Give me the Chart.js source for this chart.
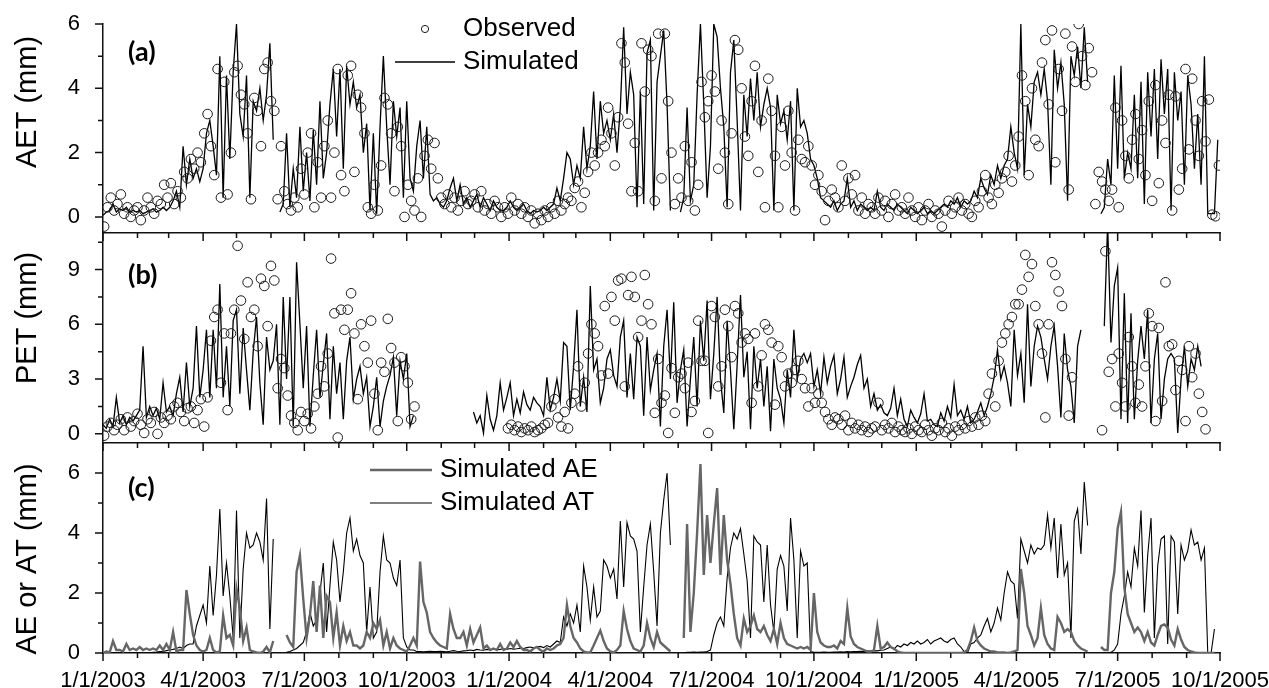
<!DOCTYPE html>
<html>
<head>
<meta charset="utf-8">
<title>AET / PET / AE-AT</title>
<script src="https://cdn.jsdelivr.net/npm/chart.js@4.4.1/dist/chart.umd.min.js"></script>
<style>
  html, body { margin: 0; padding: 0; background: #fff; }
  #wrap { position: relative; width: 1269px; height: 688px; overflow: hidden; }
  #wrap canvas { position: absolute; left: 0; }
</style>
</head>
<body>
<div id="wrap">
  <canvas id="panelA" width="1269" height="245" style="top:0"></canvas>
  <canvas id="panelB" width="1269" height="230" style="top:225px"></canvas>
  <canvas id="panelC" width="1269" height="253" style="top:435px"></canvas>
</div>
<script>
`use strict`;

// one value every 3 days starting 1/1/2003 (observed values sit one day later)
const STEP_DAYS = 3;

// (a) actual evapotranspiration, mm
const aetSimulated = [
  0.05, 0.15, 0.2, 0.4, 0.15, 0.25, 0.2, 0.3, 0.15, 0.2,
  0.15, 0.2, 0.1, 0.15, 0.2, 0.25, 0.15, 0.2, 0.3, 0.2,
  0.3, 0.5, 0.8, 0.3, 2.2, 1.0, 1.8, 1.2, 1.5, 1.1,
  1.5, 2.6, 3.0, 2.2, 1.3, 5.0, 0.6, 4.4, 1.8, 4.5,
  6.0, 3.2, 2.5, 4.4, 0.6, 3.6, 3.3, 4.0, 3.0, 3.8,
  5.4, 2.4, null, 0.15, 0.4, 2.6, 0.3, 1.5, 0.6, 2.8,
  0.8, 2.0, 0.5, 2.7, 1.0, 3.6, 1.2, 2.0, 3.5, 4.6,
  2.5, 4.6, 1.5, 4.7, 3.5, 4.2, 3.4, 3.8, 2.0, 2.9,
  0.2, 2.6, 0.1, 2.8, 5.0, 2.8, 1.0, 3.6, 2.5, 3.4,
  0.6, 3.6, 1.2, 0.8, 2.2, 3.0, 1.2, 2.8, 0.7, 0.5,
  0.6, 0.4, 0.3, 0.5, 0.9, 1.2, 0.5, 1.0, 0.4, 0.6,
  0.3, 0.5, 0.7, 0.3, 0.6, 0.4, 0.2, 0.5, 0.3, 0.2,
  0.2, 0.3, 0.5, 0.3, 0.2, 0.3, 0.4, 0.2, 0.1, 0.2,
  0.15, 0.2, 0.3, 0.2, 0.3, 0.4, 0.9, 0.5, 1.2, 2.0,
  1.8, 1.0, 1.6, 1.2, 2.8, 1.5, 2.2, 3.9, 1.8, 3.6,
  2.6, 3.0, 2.4, 3.2, 2.0, 3.4, 5.9, 3.2, 4.5, 3.8,
  0.3, 3.9, 0.4, 5.1, 5.5, 0.2, 4.2, 5.0, 5.8, 3.5,
  0.2, null, null, 0.15, 0.6, 3.4, 0.5, 1.0, 3.8, 6.0,
  3.5, 0.6, 2.2, 6.0, 5.6, 4.0, 2.8, 0.3, 4.5, 5.5,
  3.0, 0.2, 3.8, 2.5, 4.3, 3.0, 4.5, 2.8, 3.5, 4.0,
  3.4, 0.2, 3.8, 2.9, 3.3, 2.4, 3.6, 0.2, 4.0, 2.8,
  3.0, 2.6, 1.8, 1.6, 1.2, 0.6, 0.5, 0.4, 0.3, 0.5,
  0.2, 0.4, 0.5, 1.2, 0.3, 0.5, 0.2, 0.4, 0.3, 0.2,
  0.3, 0.2, 0.8, 0.3, 0.2, 0.4, 0.3, 0.2, 0.4, 0.3,
  0.2, 0.1, 0.3, 0.2, 0.1, 0.2, 0.3, 0.1, 0.2, 0.1,
  0.2, 0.3, 0.4, 0.3, 0.5, 0.4, 0.6, 0.3, 0.5, 0.4,
  0.5, 0.8, 0.6, 1.2, 0.9, 0.7, 1.3, 1.0, 1.6, 1.2,
  1.6, 1.8, 2.8, 2.0, 1.5, 6.0, 1.3, 3.5, 2.8, 4.2,
  4.5, 3.8, 4.6, 3.6, 1.0, 5.2, 4.0, 4.8, 3.5, 0.5,
  5.0, 4.4, 5.3, 4.0, 5.9, 4.2, null, null, null, 0.1,
  0.3, 1.8, 1.0, 4.4, 1.5, 4.7, 1.2, 2.0, 1.5, 3.8,
  1.2, 4.2, 0.4, 4.5, 2.5, 4.6, 1.8, 4.9, 3.2, 4.6,
  0.2, 4.5, 3.0, 3.9, 1.0, 4.4, 3.5, 1.5, 3.2, 1.0,
  5.0, 0.1, 0.1, 0.1, 2.4
];
const aetObserved = [
  -0.3, 0.3, 0.6, 0.2, 0.4, 0.7, 0.1, 0.3, 0.0, 0.2,
  0.3, -0.1, 0.2, 0.6, 0.3, 0.1, 0.5, 0.4, 1.0, 0.6,
  1.05, 0.4, 0.8, 0.6, 1.4, 1.2, 1.8, 1.5, 2.0, 1.7,
  2.6, 3.2, 2.2, 1.3, 4.6, 0.6, 4.2, 0.7, 2.0, 4.5,
  4.7, 3.8, 3.5, 2.6, 0.55, 3.7, 3.3, 2.2, 4.6, 4.8,
  3.6, 3.3, 0.55, 2.2, 0.8, 0.4, 0.2, 0.6, 0.3, 1.5,
  0.7, 2.0, 2.6, 0.3, 1.7, 0.6, 2.2, 3.0, 0.6, 2.0,
  4.6, 1.3, 0.8, 4.4, 4.7, 1.4, 3.8, 3.4, 2.6, 0.3,
  0.1, 1.0, 0.2, 1.6, 3.7, 3.5, 2.6, 0.8, 2.8, 2.2,
  0.0, 1.0, 0.5, 0.2, 1.2, 0.0, 1.9, 2.4, 1.5, 2.3,
  1.2, 0.6, 0.4, 0.7, 0.3, 0.6, 0.2, 0.5, 0.8, 0.4,
  0.5, 0.7, 0.3, 0.8, 0.2, 0.4, 0.1, 0.5, 0.3, 0.0,
  0.3, 0.1, 0.6, 0.2, 0.4, 0.1, 0.3, 0.0, 0.2, -0.2,
  0.1, -0.1, 0.2, 0.0, 0.3, 0.1, 0.5, 0.2, 0.4, 0.6,
  0.5, 0.9, 1.1, 0.3, 0.75, 1.4, 2.0, 1.6, 2.0, 2.4,
  2.2, 3.4, 2.6, 1.6, 3.1, 5.4, 4.8, 2.9, 0.8, 2.3,
  0.8, 5.4, 3.9, 5.2, 5.0, 0.5, 5.7, 1.2, 5.7, 3.6,
  2.0, 0.4, 1.2, 0.6, 2.2, 0.5, 1.7, 0.2, 1.0, 4.2,
  3.1, 3.6, 4.4, 3.9, 1.5, 3.0, 2.0, 0.4, 2.6, 5.5,
  5.2, 4.0, 2.5, 1.9, 3.6, 4.7, 1.4, 3.0, 0.3, 4.3,
  3.3, 1.9, 0.3, 2.8, 1.6, 3.3, 2.0, 0.2, 2.4, 1.8,
  1.7, 2.2, 1.6, 1.0, 1.3, 0.8, -0.1, 0.5, 0.85, 0.6,
  0.3, 1.6, 0.5, 1.2, 0.7, 1.3, 0.2, 0.6, 0.1, 0.4,
  0.3, 0.1, 0.6, 0.2, 0.5, 0.0, 0.4, 0.7, 0.2, 0.3,
  0.1, 0.6, 0.2, 0.0, 0.3, -0.1, 0.2, 0.4, 0.0, 0.2,
  0.1, -0.3, 0.2, 0.5, 0.1, 0.3, 0.6, 0.2, 0.4, 0.1,
  0.0, 0.5, 0.3, 0.8, 1.3, 0.6, 0.4, 1.0, 0.75, 1.2,
  1.4, 1.9, 1.1, 1.6, 2.5, 4.4, 3.6, 1.3, 4.0, 2.4,
  2.2, 4.8, 5.5, 3.5, 5.8, 1.7, 4.6, 3.3, 5.7, 0.85,
  5.3, 4.2, 6.0, 5.0, 4.1, 5.25, 4.5, 0.4, 1.4, 1.1,
  0.85, 0.5, 0.85, 3.4, 0.3, 3.0, 1.9, 1.2, 2.4, 3.2,
  1.8, 2.7, 1.3, 3.6, 0.5, 4.1, 1.05, 3.0, 2.3, 3.8,
  0.2, 3.75, 0.85, 1.5, 4.6, 2.1, 4.3, 3.0, 1.9, 3.6,
  2.35, 3.65, 0.07, 0.02, 1.6
];

// (b) potential evapotranspiration, mm
const petSimulated = [
  0.5, 0.3, 0.8, 0.4, 2.0, 0.6, 1.0, 0.5, 0.9, 0.7,
  1.0, 1.3, 4.8, 0.9, 1.5, 1.0, 1.4, 0.8, 2.8, 1.2,
  1.5, 1.0, 2.2, 3.1, 1.2, 3.9, 1.5, 2.5, 5.9, 2.0,
  3.5, 5.7, 2.0, 5.7, 2.5, 8.2, 2.0, 4.8, 1.5, 6.2,
  6.8, 2.2, 5.8, 3.5, 1.3, 4.5, 6.4, 2.8, 0.5, 5.3,
  3.5, 4.0, 6.0, 0.5, 7.5, 3.0, 7.5, 0.4, 9.4, 6.0,
  2.5, 5.9, 0.4, 3.2, 5.7, 2.0, 3.8, 5.5, 0.8, 4.8,
  2.2, 3.9, 0.8, 4.0, 5.3, 1.9, 3.0, 3.7, 2.2, 3.1,
  0.4, 1.5, 3.1, 0.4, 1.8, 2.6, 3.2, 4.2, 1.0, 4.0,
  3.0, 4.4, 0.4, 1.0, null, null, null, null, null, null,
  null, null, null, null, null, null, null, null, null, null,
  null, 1.2, 0.6, 1.0, 0.05, 2.1, 0.8, 0.2, 1.0, 2.8,
  1.3, 2.0, 2.8, 1.0, 1.9, 1.15, 2.3, 1.6, 1.3, 2.0,
  1.7, 1.5, 1.0, 3.1, 1.3, 2.0, 3.0, 1.8, 5.0, 4.8,
  1.3, 3.7, 6.8, 1.5, 3.1, 1.2, 8.1, 3.5, 4.1, 1.7,
  2.5, 4.1, 4.6, 3.2, 2.6, 5.3, 6.2, 2.0, 4.4, 1.9,
  5.3, 4.8, 1.0, 5.3, 2.4, 3.5, 4.4, 0.4, 4.8, 6.8,
  3.0, 7.2, 1.7, 3.5, 4.6, 0.4, 3.0, 5.3, 1.5, 6.2,
  4.0, 7.3, 1.9, 4.4, 7.5, 3.0, 1.15, 6.2, 3.5, 0.25,
  3.8, 7.6, 3.1, 4.5, 0.25, 4.8, 2.5, 4.1, 1.5, 3.7,
  0.15, 4.1, 2.5, 1.9, 0.6, 3.5, 2.0, 5.7, 3.0, 4.1,
  4.4, 3.9, 4.4, 2.6, 3.5, 2.2, 4.2, 2.8, 3.7, 4.3,
  2.2, 3.0, 4.2, 2.0, 2.6, 3.1, 3.8, 4.3, 2.5, 3.0,
  1.5, 2.2, 1.3, 1.6, 1.15, 1.0, 1.4, 2.5, 1.0, 1.9,
  0.8, 0.4, 1.3, 0.9, 0.6, 1.1, 2.2, 0.7, 0.8, 0.5,
  0.4, 1.15, 0.7, 1.5, 0.9, 2.7, 1.0, 1.3, 0.8, 1.5,
  0.6, 0.8, 1.2, 1.7, 1.0, 1.5, 2.2, 3.1, 4.6, 3.0,
  3.7, 2.8, 1.5, 5.7, 3.2, 4.4, 1.7, 7.1, 2.6, 4.8,
  5.9, 5.3, 4.1, 3.0, 4.8, 5.9, 3.7, 0.9, 5.5, 3.5,
  2.6, 0.6, 4.8, 5.7, null, null, null, null, null, null,
  5.9, 11.5, 5.0, 8.1, 9.1, 0.8, 7.7, 0.6, 6.6, 0.8,
  4.0, 5.9, 4.1, 6.8, 0.6, 4.1, 5.5, 0.8, 3.0, 4.1,
  4.4, 4.1, 0.05, 3.0, 4.8, 2.6, 4.1, 3.5, 4.8, 3.7,
  null, null, null, null, null
];
const petObserved = [
  -0.1, 0.4, 0.6, 0.2, 0.5, 0.8, 0.2, 0.9, 0.4, 0.7,
  1.1, 0.5, 0.05, 0.8, 0.6, 1.2, 0.0, 0.9, 0.6, 1.0,
  0.8, 1.5, 1.7, 1.2, 0.7, 1.4, 1.5, 0.6, 1.3, 1.9,
  0.4, 2.0, 5.1, 6.4, 6.8, 2.8, 5.5, 1.3, 5.5, 6.8,
  10.3, 7.3, 5.2, 8.3, 6.4, 6.8, 4.8, 8.5, 8.1, 5.9,
  9.2, 8.4, 2.5, 4.1, 3.6, 2.1, 1.0, 0.6, 0.2, 1.2,
  0.7, 1.1, 0.3, 1.5, 2.2, 3.7, 2.6, 4.4, 9.6, 6.6,
  -0.2, 6.8, 5.7, 6.8, 7.7, 5.5, 1.9, 6.0, 4.8, 3.9,
  6.2, 2.2, 0.2, 3.9, 3.4, 6.3, 4.7, 3.9, 0.7, 4.2,
  3.7, 2.8, 0.8, 1.5, null, null, null, null, null, null,
  null, null, null, null, null, null, null, null, null, null,
  null, null, null, null, null, null, null, null, null, null,
  null, 0.3, 0.5, 0.2, 0.4, 0.1, 0.3, 0.2, 0.4, 0.1,
  0.2, 0.3, 0.5, 0.6, 1.5, 1.9, 0.9, 0.4, 1.2, 0.3,
  1.7, 2.2, 3.7, 1.5, 2.8, 4.4, 6.0, 5.5, 4.8, 3.2,
  7.0, 3.3, 7.5, 6.2, 8.4, 8.5, 2.6, 7.6, 8.6, 7.5,
  5.3, 6.2, 8.7, 7.1, 6.0, 1.15, 4.1, 1.7, 2.1, 0.05,
  3.6, 1.15, 3.1, 3.3, 2.5, 3.9, 1.2, 1.8, 6.2, 4.0,
  4.0, 0.05, 7.0, 6.4, 2.6, 3.7, 6.8, 5.9, 4.2, 7.0,
  6.6, 5.0, 5.5, 5.2, 1.7, 5.5, 2.6, 4.3, 6.0, 5.7,
  5.0, 1.6, 4.8, 4.2, 2.6, 3.3, 2.8, 3.5, 4.0, 3.0,
  2.5, 1.5, 2.5, 1.7, 2.2, 1.7, 1.2, 0.8, 0.5, 0.9,
  0.8, 0.5, 1.0, 0.2, 0.6, 0.3, 0.5, 0.2, 0.4, 0.1,
  0.3, 0.4, 1.7, 0.2, 0.5, 0.3, 0.6, 0.1, 0.4, 0.2,
  0.1, 0.3, 0.0, 0.4, 0.2, 0.1, 0.5, 0.2, -0.1, 0.3,
  0.2, 0.6, 0.1, 0.3, -0.1, 0.4, 0.2, 0.5, 0.3, 0.7,
  0.4, 0.9, 0.5, 1.0, 0.7, 2.2, 3.3, 1.5, 4.0, 5.0,
  5.5, 6.0, 6.4, 7.1, 7.1, 7.9, 9.8, 8.6, 9.3, 7.0,
  6.0, 4.4, 0.9, 6.0, 9.4, 8.7, 7.8, 7.0, 4.1, 1.0,
  3.1, null, null, null, null, null, null, null, null, 0.2,
  10.0, 3.4, 4.1, 1.5, 4.4, 2.8, 1.5, 5.3, 3.7, 1.7,
  2.7, 1.5, 3.7, 6.6, 5.9, 0.7, 5.8, 1.8, 8.3, 4.8,
  4.9, 2.4, 4.0, 3.5, 0.7, 4.8, 3.1, 4.4, 2.2, 1.2,
  0.25, null, null, null, null
];

// (c) simulated soil evaporation (AE) and transpiration (AT), mm
const aeSimulated = [
  0, 0.05, 0.02, 0.4, 0.1, 0.1, 0.05, 0.3, 0.1, 0.15,
  0.1, 0.2, 0.1, 0.15, 0.1, 0.15, 0.1, 0.25, 0.1, 0.3,
  0.1, 0.7, 0.05, 0.1, 0.1, 2.1, 1.3, 0.6, 0.25, 0.1,
  0.05, 0.1, 0.5, 0.1, 0.02, 0.05, 1.25, 0.5, 0.6, 0.25,
  2.15, 1.5, 0.4, 0.85, 0.1, 0.05, 0.02, 0.0, 0.05, 0.2,
  0.02, 0.4, null, null, null, 0.6, 0.35, 0.2, 2.7, 3.25,
  1.8, 0.5, 1.25, 2.4, 0.7, 2.25, 0.5, 1.9, 1.7, 0.5,
  1.35, 0.25, 0.9, 0.4, 0.7, 0.25, 0.25, 0.15, 0.25, 0.7,
  0.5, 1.0, 0.8, 1.1, 0.25, 0.7, 0.15, 0.5, 0.25, 0.15,
  0.1, 0.05, 0.25, 0.5, 0.25, 3.05, 1.7, 1.35, 0.7, 0.5,
  0.35, 0.25, 0.2, 0.15, 1.3, 0.8, 0.5, 0.5, 0.7, 0.25,
  0.8, 0.35, 0.6, 0.85, 0.15, 0.25, 0.1, 0.15, 0.1, 0.3,
  0.1, 0.15, 0.35, 0.2, 0.4, 0.2, 0.1, 0.1, 0.05, 0.15,
  0.2, 0.1, 0.05, 0.15, 0.1, 0.15, 0.25, 0.3, 0.5, 1.6,
  0.9, 0.5, 0.35, 0.15, 0.05, 0.02, 0.02, 0.25, 0.5, 0.75,
  0.4, 0.15, 0.05, 0.02, 0.1, 0.25, 1.4, 0.8, 0.4, 0.15,
  0.1, 0.05, 0.25, 1.0, 0.5, 0.2, 0.7, 0.35, 0.25, 0.15,
  0.05, null, null, null, 0.5, 4.3, 0.7, 2.0, 4.0, 6.3,
  2.6, 4.6, 3.0, 4.3, 5.5, 2.6, 4.6, 3.1, 2.3, 1.3,
  0.5, 0.25, 1.15, 0.7, 0.9, 1.25, 0.8, 0.7, 0.9, 0.6,
  0.4, 0.8, 0.3, 1.0, 0.5, 0.3, 0.25, 0.2, 0.15, 0.2,
  0.15, 0.2, 0.1, 2.0, 0.7, 0.35, 0.25, 0.2, 0.2, 0.25,
  0.15, 0.4, 0.3, 1.5, 0.55, 0.3, 0.2, 0.15, 0.1, 0.05,
  0.05, 0.1, 0.9, 0.15, 0.2, 0.35, 0.2, 0.15, 0.05, 0.02,
  0, 0, 0, 0, 0, 0, 0, 0, 0, 0,
  0, 0, 0, 0, 0, 0, 0, 0, 0.02, 0.1,
  0.4, 0.85, 0.4, 0.25, 0.15, 0.1, 0.05, 0.05, 0.02, 0.02,
  0.02, 0, 0.02, 0.05, 0.1, 2.8, 2.0, 0.9, 0.6, 0.25,
  0.5, 1.5, 0.6, 0.3, 0.15, 0.1, 1.2, 1.0, 0.7, 0.8,
  0.7, 0.4, 0.25, 0.15, 0.1, 0.05, null, null, null, 0.2,
  0.1, 0.1, 2.0, 2.7, 4.15, 4.7, 2.2, 1.3, 1.0, 0.7,
  0.85, 0.7, 0.4, 0.7, 0.35, 0.25, 0.6, 0.9, 0.95, 0.85,
  0.45, 0.25, 0.8, 0.45, 0.2, 0.1, 0.05, 0.02, 0, 0,
  0, 0, 0, 0, null
];
const atSimulated = [
  0, 0, 0, 0, 0, 0, 0, 0, 0, 0,
  0, 0, 0, 0, 0, 0.02, 0.03, 0.05, 0.05, 0.08,
  0.1, 0.12, 0.15, 0.2, 0.15, 0.25, 0.3, 0.3, 0.9, 1.25,
  1.6, 1.0, 2.9, 1.25, 2.6, 4.8, 1.9, 3.0, 1.9, 0.5,
  4.75, 0.5, 2.8, 4.0, 3.5, 3.6, 4.0, 3.7, 3.1, 5.15,
  0.8, 3.8, null, null, null, 0.02, 0.05, 0.1, 0.15, 0.25,
  0.35, 0.7, 1.35, 0.9, 1.1, 2.0, 3.0, 0.7, 2.25, 3.7,
  3.1, 1.7, 2.7, 4.0, 4.5, 3.4, 3.8, 3.25, 3.0, 0.7,
  2.2, 0.5, 0.7, 2.7, 3.9, 3.1, 3.0, 2.5, 2.25, 3.1,
  0.5, 0.2, 0.1, 0.1, 0.05, 0.05, 0.04, 0.05, 0.06, 0.05,
  0.05, 0.06, 0.05, 0.04, 0.06, 0.08, 0.06, 0.05, 0.07, 0.08,
  0.1, 0.08, 0.12, 0.1, 0.09, 0.12, 0.1, 0.13, 0.11, 0.12,
  0.14, 0.12, 0.15, 0.13, 0.14, 0.16, 0.15, 0.18, 0.2, 0.17,
  0.2, 0.22, 0.18, 0.25, 0.2, 0.3, 0.4, 0.35, 1.2, 0.9,
  1.3, 1.0, 1.6, 0.7, 2.9, 2.2, 1.1, 2.2, 1.2, 1.4,
  3.1, 2.9, 2.5, 2.8, 1.8, 4.4, 2.2, 4.35, 3.9, 3.8,
  3.4, 0.7, 2.2, 3.6, 4.3, 2.7, 0.9, 4.0, 5.1, 6.0,
  3.6, null, null, null, 0, 0.02, 0.02, 0.03, 0.02, 0.03,
  0.03, 0.05, 0.1, 0.6, 1.0, 1.2, 0.9, 2.5, 3.5, 4.0,
  3.8, 4.15, 3.3, 2.4, 0.5, 3.9, 3.7, 3.6, 1.7, 3.6,
  1.6, 0.7, 2.8, 3.25, 2.9, 1.4, 4.5, 3.1, 0.5, 3.4,
  2.9, 3.0, 0.05, 0.02, 0.02, 0.02, 0.03, 0.02, 0.02, 0.03,
  0.03, 0.04, 0.03, 0.05, 0.04, 0.05, 0.05, 0.06, 0.05, 0.07,
  0.06, 0.08, 0.07, 0.09, 0.1, 0.15, 0.2, 0.12, 0.25, 0.2,
  0.3, 0.25, 0.35, 0.3, 0.4, 0.3, 0.35, 0.45, 0.3, 0.4,
  0.45, 0.5, 0.4, 0.35, 0.45, 0.5, 0.3, 0.2, 0.05, 0.0,
  0.3, 0.35, 0.5, 0.6, 0.9, 1.15, 0.7, 1.0, 1.5, 1.1,
  2.0, 2.7, 2.4, 2.3, 1.15, 3.8, 3.4, 3.0, 3.6, 3.3,
  3.5, 3.45, 3.6, 4.6, 3.5, 4.5, 2.5, 4.3, 2.6, 3.0,
  0.5, 4.4, 4.8, 3.3, 5.7, 4.25, null, null, null, 0,
  0, 0, 0.02, 0.1, 0.3, 1.3, 1.9, 2.7, 2.2, 3.5,
  2.9, 4.75, 1.35, 3.25, 4.5, 0.5, 2.9, 3.8, 3.9, 0.3,
  3.9, 3.7, 1.3, 3.6, 3.1, 3.4, 4.1, 3.6, 3.7, 3.1,
  3.5, 0, 0, 0.8, null
];

// shared time axis: days since 1/1/2003
const quarterDays = [0, 90, 181, 273, 365, 456, 547, 639, 731, 821, 912, 1004];
const quarterLabels = [`1/1/2003`, `4/1/2003`, `7/1/2003`, `10/1/2003`, `1/1/2004`, `4/1/2004`,
  `7/1/2004`, `10/1/2004`, `1/1/2005`, `4/1/2005`, `7/1/2005`, `10/1/2005`];

const FONT = `"Liberation Sans", Arial, sans-serif`;
Chart.defaults.font.family = FONT;
Chart.defaults.color = `#000`;

// first day of every month, for the minor ticks
const DAY_MS = 86400000;
const monthDays = [];
for (let m = 0; m <= 33; m++) {
    monthDays.push(Math.round((Date.UTC(2003, m, 1) - Date.UTC(2003, 0, 1)) / DAY_MS));
}

const series = (vals, shift) => vals.map((v, i) => ({ x: i * STEP_DAYS + shift, y: v }));

const observedStyle = {
    showLine: false,
    pointRadius: 4.8,
    pointHoverRadius: 4.8,
    pointBorderWidth: 1,
    borderColor: `#1a1a1a`,
    pointBackgroundColor: `rgba(0,0,0,0)`,
    backgroundColor: `rgba(0,0,0,0)`,
    clip: 0
};
const lineStyle = (color, width) => ({
    borderColor: color,
    borderWidth: width,
    pointRadius: 0,
    tension: 0,
    spanGaps: false,
    clip: 0
});

// keep the plot box exactly where the layout padding puts it
const noScalePadding = s => {
    s.paddingLeft = 0;
    s.paddingRight = 0;
    s.paddingTop = 0;
    s.paddingBottom = 0;
};

// tick marks, y title, panel tag and in-plot legend
const panelDeco = {
    id: `panelDeco`,
    afterDraw(chart, args, o) {
        const { ctx, chartArea: area, scales: { x, y } } = chart;
        const top = o.top;
        ctx.save();
        ctx.strokeStyle = `#111`;
        ctx.lineWidth = 1.5;
        ctx.beginPath();
        monthDays.forEach(d => {
            const px = x.getPixelForValue(d);
            const len = quarterDays.includes(d) ? 8 : 5;
            ctx.moveTo(px, area.bottom);
            ctx.lineTo(px, area.bottom + len);
        });
        o.yMajor.forEach(v => {
            const py = y.getPixelForValue(v);
            ctx.moveTo(area.left, py);
            ctx.lineTo(area.left - 8, py);
        });
        o.yMinor.forEach(v => {
            const py = y.getPixelForValue(v);
            ctx.moveTo(area.left, py);
            ctx.lineTo(area.left - 5, py);
        });
        ctx.stroke();

        ctx.fillStyle = `#000`;
        ctx.textBaseline = `middle`;

        ctx.save();
        ctx.font = `29px ${FONT}`;
        ctx.textAlign = `center`;
        ctx.translate(28, o.titleY - top);
        ctx.rotate(-Math.PI / 2);
        ctx.fillText(o.title, 0, 0);
        ctx.restore();

        ctx.font = `bold 27px Lato, ${FONT}`;
        ctx.textAlign = `left`;
        ctx.fillText(o.tag, 128, o.tagY - top);

        ctx.font = `26px ${FONT}`;
        (o.legend || []).forEach(item => {
            const ds = chart.data.datasets[item.dataset];
            const ly = item.y - top;
            if (ds.showLine === false) {
                ctx.beginPath();
                ctx.lineWidth = 1;
                ctx.strokeStyle = ds.borderColor;
                ctx.arc((item.x0 + item.x1) / 2, ly, 3.6, 0, Math.PI * 2);
                ctx.stroke();
            } else {
                ctx.beginPath();
                ctx.lineWidth = ds.borderWidth;
                ctx.strokeStyle = ds.borderColor;
                ctx.moveTo(item.x0, ly);
                ctx.lineTo(item.x1, ly);
                ctx.stroke();
            }
            ctx.fillText(ds.label, item.textX, ly);
        });
        ctx.restore();
    }
};

function makePanel(id, p) {
    const ctx = document.getElementById(id);
    return new Chart(ctx, {
        type: `line`,
        data: { datasets: p.datasets },
        options: {
            responsive: false,
            animation: false,
            events: [],
            layout: { padding: { left: 0, right: 49, top: p.padTop, bottom: p.padBottom } },
            scales: {
                x: {
                    type: `linear`,
                    min: 0,
                    max: 1004,
                    grid: { display: false },
                    border: { display: true, color: `#111`, width: 1.5 },
                    ticks: {
                        display: p.showDates,
                        autoSkip: false,
                        maxRotation: 0,
                        padding: 7,
                        font: { size: 22 },
                        callback: v => quarterLabels[quarterDays.indexOf(v)] || ``
                    },
                    afterBuildTicks: s => { s.ticks = quarterDays.map(v => ({ value: v })); },
                    afterFit: s => {
                        s.height = p.showDates ? 35 : 0;
                        noScalePadding(s);
                    }
                },
                y: {
                    min: p.yMin,
                    max: p.yMax,
                    grid: { display: false },
                    border: { display: true, color: `#111`, width: 1.5 },
                    ticks: { padding: 15, font: { size: 22 } },
                    afterBuildTicks: s => { s.ticks = p.yMajor.map(v => ({ value: v })); },
                    afterFit: s => {
                        s.width = 103;
                        noScalePadding(s);
                    }
                }
            },
            plugins: {
                legend: { display: false },
                tooltip: { enabled: false },
                panelDeco: {
                    top: p.top, title: p.title, titleY: p.titleY, tag: p.tag, tagY: p.tagY,
                    yMajor: p.yMajor, yMinor: p.yMinor, legend: p.legend
                }
            }
        },
        plugins: [panelDeco]
    });
}

makePanel(`panelA`, {
    top: 0, padTop: 24, padBottom: 12, showDates: false,
    yMin: -0.5, yMax: 6, yMajor: [0, 2, 4, 6], yMinor: [1, 3, 5],
    title: `AET (mm)`, titleY: 102, tag: `(a)`, tagY: 52,
    legend: [
        { dataset: 0, x0: 395, x1: 455, textX: 463, y: 29 },
        { dataset: 1, x0: 395, x1: 455, textX: 463, y: 62 }
    ],
    datasets: [
        Object.assign({ label: `Observed`, data: series(aetObserved, 1) }, observedStyle),
        Object.assign({ label: `Simulated`, data: series(aetSimulated, 0) }, lineStyle(`#000`, 1.3))
    ]
});

makePanel(`panelB`, {
    top: 225, padTop: 8, padBottom: 12, showDates: false,
    yMin: -0.5, yMax: 11, yMajor: [0, 3, 6, 9], yMinor: [1.5, 4.5, 7.5, 10.5],
    title: `PET (mm)`, titleY: 318, tag: `(b)`, tagY: 275,
    datasets: [
        Object.assign({ label: `Observed`, data: series(petObserved, 1) }, observedStyle),
        Object.assign({ label: `Simulated`, data: series(petSimulated, 0) }, lineStyle(`#000`, 1.3))
    ]
});

makePanel(`panelC`, {
    top: 435, padTop: 8, padBottom: 0, showDates: true,
    yMin: 0, yMax: 7, yMajor: [0, 2, 4, 6], yMinor: [1, 3, 5],
    title: `AE or AT (mm)`, titleY: 559, tag: `(c)`, tagY: 488,
    legend: [
        { dataset: 0, x0: 370, x1: 432, textX: 440, y: 470 },
        { dataset: 1, x0: 370, x1: 432, textX: 440, y: 503 }
    ],
    datasets: [
        Object.assign({ label: `Simulated AE`, data: series(aeSimulated, 0) }, lineStyle(`#666`, 2.4)),
        Object.assign({ label: `Simulated AT`, data: series(atSimulated, 0) }, lineStyle(`#000`, 1.1))
    ]
});
</script>
</body>
</html>
